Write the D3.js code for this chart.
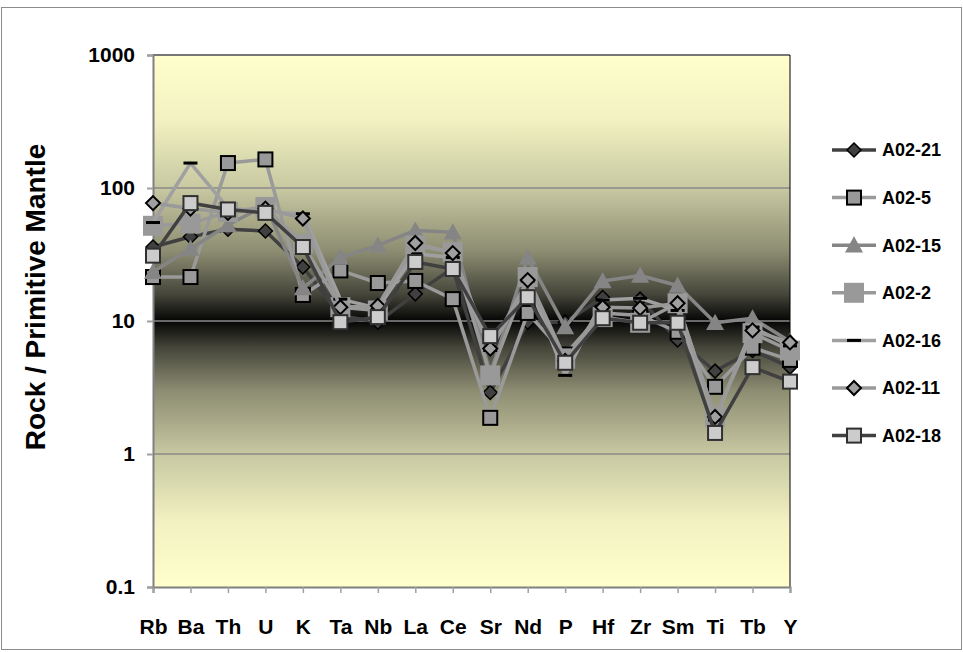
<!DOCTYPE html>
<html>
<head>
<meta charset="utf-8">
<script src="https://cdn.jsdelivr.net/npm/d3@7"></script>
<style>
  html, body { margin: 0; padding: 0; background: #fff; }
  svg text { font-family: "Liberation Sans", Arial, sans-serif; font-weight: bold; fill: #000; }
</style>
</head>
<body>
<svg id="chart" width="963" height="652"></svg>
<script>
// Trace elements normalised to primitive mantle
const elements = ["Rb","Ba","Th","U","K","Ta","Nb","La","Ce","Sr","Nd","P","Hf","Zr","Sm","Ti","Tb","Y"];
const yTicks = [0.1, 1, 10, 100, 1000];
const yTickLabels = ["0.1", "1", "10", "100", "1000"];
const seriesNames = ["A02-21","A02-5","A02-15","A02-2","A02-16","A02-11","A02-18"];

const a02_21 = [36, 43, 49, 47.5, 25.5, 11, 9.8, 16, 25, 2.9, 9.8, 9.8, 15, 14.6, 7.2, 4.2, 6, 4.5];
const a02_5  = [21.4, 21.4, 154, 164, 15.7, 24, 19.3, 20, 14.6, 1.87, 11.5, 5.6, 11.5, 11, 8.3, 3.2, 6.3, 5.1];
const a02_15 = [23.4, 35, 52.7, 74, 17.7, 30, 37, 48, 46.5, 4, 30, 9, 20, 22, 18.5, 9.7, 10.5, 7];
const a02_2  = [52, 54, 66, 72, 38, 12.7, 12, 37, 33, 3.9, 21.4, 5.2, 10.7, 9.7, 13.6, 1.9, 8.1, 6];
const a02_16 = [55, 154, 71, 66, 64, 14.6, 12.5, 32, 30, 6, 20, 3.9, 14.4, 14.8, 12, 1.8, 9, 6.5];
const a02_11 = [77, 70, 65, 70, 59, 12.7, 13, 38.6, 32.4, 6.2, 20.3, 5, 12.7, 12.5, 13.6, 1.9, 8.5, 6.9];
const a02_18 = [31, 77, 69, 65, 36, 9.8, 10.7, 27.8, 24.6, 7.7, 15.1, 4.85, 10.5, 9.7, 9.7, 1.44, 4.5, 3.5];

const seriesValues = [a02_21, a02_5, a02_15, a02_2, a02_16, a02_11, a02_18];

// visual style per sample
const styles = [
  { line: "#404040", marker: "diamond", size: 7,  fill: "#404040", stroke: "#000", sw: 1.5 },
  { line: "#9a9a9a", marker: "square",  size: 7,  fill: "#999999", stroke: "#000", sw: 2 },
  { line: "#858585", marker: "triangle",size: 9,  fill: "#858585", stroke: "none", sw: 0 },
  { line: "#999999", marker: "square",  size: 10, fill: "#999999", stroke: "none", sw: 0 },
  { line: "#a0a0a0", marker: "dash",    size: 7,  fill: "#000",    stroke: "none", sw: 0 },
  { line: "#999999", marker: "diamond", size: 7,  fill: "#a0a0a0", stroke: "#000", sw: 2 },
  { line: "#404040", marker: "square",  size: 7,  fill: "#cccccc", stroke: "#303030", sw: 2 }
];

const svg = d3.select("#chart");
const plotLeft = 153, plotRight = 790, plotTop = 55, plotBottom = 587;

const x = d3.scalePoint().domain(elements).range([plotLeft, plotRight]).padding(0);
const y = d3.scaleLog().domain([0.1, 1000]).range([plotBottom, plotTop]);

// outer frame
svg.append("rect").attr("x", 1.5).attr("y", 7.5).attr("width", 960).attr("height", 642)
  .attr("fill", "#fff").attr("stroke", "#8c8c8c").attr("stroke-width", 1);

// plot area background: light yellow fading to black at the middle
const defs = svg.append("defs");
const grad = defs.append("linearGradient").attr("id", "bg")
  .attr("x1", 0).attr("y1", 0).attr("x2", 0).attr("y2", 1);
[[0, "#ffffcc"], [0.12, "#f2f2c2"], [0.25, "#c8c8a2"], [0.37, "#8c8c72"], [0.45, "#45453a"], [0.5, "#050505"],
 [0.55, "#45453a"], [0.63, "#8c8c72"], [0.75, "#c8c8a2"], [0.88, "#f2f2c2"], [1, "#ffffcc"]]
  .forEach(([o, c]) => grad.append("stop").attr("offset", o).attr("stop-color", c));

svg.append("rect").attr("x", plotLeft).attr("y", plotTop)
  .attr("width", plotRight - plotLeft).attr("height", plotBottom - plotTop)
  .attr("fill", "url(#bg)");

// horizontal gridlines
svg.append("g").selectAll("line").data(yTicks.slice(1, -1)).join("line")
  .attr("x1", plotLeft).attr("x2", plotRight).attr("y1", d => y(d)).attr("y2", d => y(d))
  .attr("stroke", "#8a8a8a").attr("stroke-width", 1.5);

// plot border (top and right)
svg.append("line").attr("x1", plotLeft).attr("x2", plotRight).attr("y1", plotTop).attr("y2", plotTop)
  .attr("stroke", "#777").attr("stroke-width", 2);
svg.append("line").attr("x1", plotRight).attr("x2", plotRight).attr("y1", plotTop).attr("y2", plotBottom)
  .attr("stroke", "#000").attr("stroke-width", 1);

// y axis
const yAxis = d3.axisLeft(y).tickValues(yTicks).tickFormat((d, i) => yTickLabels[i]).tickSize(6).tickPadding(12);
const gy = svg.append("g").attr("transform", `translate(${plotLeft},0)`).call(yAxis);
gy.select(".domain").attr("stroke", "#808080").attr("stroke-width", 2);
gy.selectAll(".tick line").attr("stroke", "#a0a0a0").attr("stroke-width", 2);
gy.selectAll(".tick text").attr("font-size", 21).attr("font-family", "Liberation Sans, Arial, sans-serif")
  .attr("font-weight", "bold").attr("fill", "#000").attr("x", -18);

// x axis
const xAxis = d3.axisBottom(x).tickSize(6).tickPadding(26);
const gx = svg.append("g").attr("transform", `translate(0,${plotBottom})`).call(xAxis);
gx.select(".domain").attr("stroke", "#808080").attr("stroke-width", 2);
gx.selectAll(".tick line").attr("stroke", "#a0a0a0").attr("stroke-width", 1.5);
gx.selectAll(".tick text").attr("font-size", 21).attr("font-family", "Liberation Sans, Arial, sans-serif")
  .attr("font-weight", "bold").attr("fill", "#000");

// y axis title
svg.append("text").attr("transform", "translate(45,297) rotate(-90)")
  .attr("text-anchor", "middle").attr("font-size", 28).text("Rock / Primitive Mantle");

// marker drawing helper
function drawMarker(g, st, cx, cy) {
  const s = st.size;
  let el;
  if (st.marker === "diamond") {
    el = g.append("path").attr("d", `M${cx},${cy - s}L${cx + s},${cy}L${cx},${cy + s}L${cx - s},${cy}Z`);
  } else if (st.marker === "square") {
    el = g.append("rect").attr("x", cx - s).attr("y", cy - s).attr("width", 2 * s).attr("height", 2 * s);
  } else if (st.marker === "triangle") {
    el = g.append("path").attr("d", `M${cx},${cy - s}L${cx + s},${cy + s * 0.8}L${cx - s},${cy + s * 0.8}Z`);
  } else {
    el = g.append("rect").attr("x", cx - s).attr("y", cy - 1.5).attr("width", 2 * s).attr("height", 3);
  }
  el.attr("fill", st.fill).attr("stroke", st.stroke).attr("stroke-width", st.sw);
}

const lineGen = d3.line().x((d, i) => x(elements[i])).y(d => y(d));

const plot = svg.append("g");
seriesValues.forEach((vals, si) => {
  const st = styles[si];
  const g = plot.append("g");
  g.append("path").datum(vals).attr("d", lineGen).attr("fill", "none")
    .attr("stroke", st.line).attr("stroke-width", 3.5).attr("stroke-linejoin", "round");
  vals.forEach((v, i) => drawMarker(g, st, x(elements[i]), y(v)));
});

// legend
const legend = svg.append("g");
seriesNames.forEach((name, i) => {
  const st = styles[i];
  const ly = 150 + i * 47.6;
  const g = legend.append("g");
  g.append("line").attr("x1", 832).attr("x2", 876).attr("y1", ly).attr("y2", ly)
    .attr("stroke", st.line).attr("stroke-width", 3.5);
  drawMarker(g, st, 854, ly);
  g.append("text").attr("x", 882).attr("y", ly).attr("dy", "0.36em").attr("font-size", 18).text(name);
});
</script>
</body>
</html>
